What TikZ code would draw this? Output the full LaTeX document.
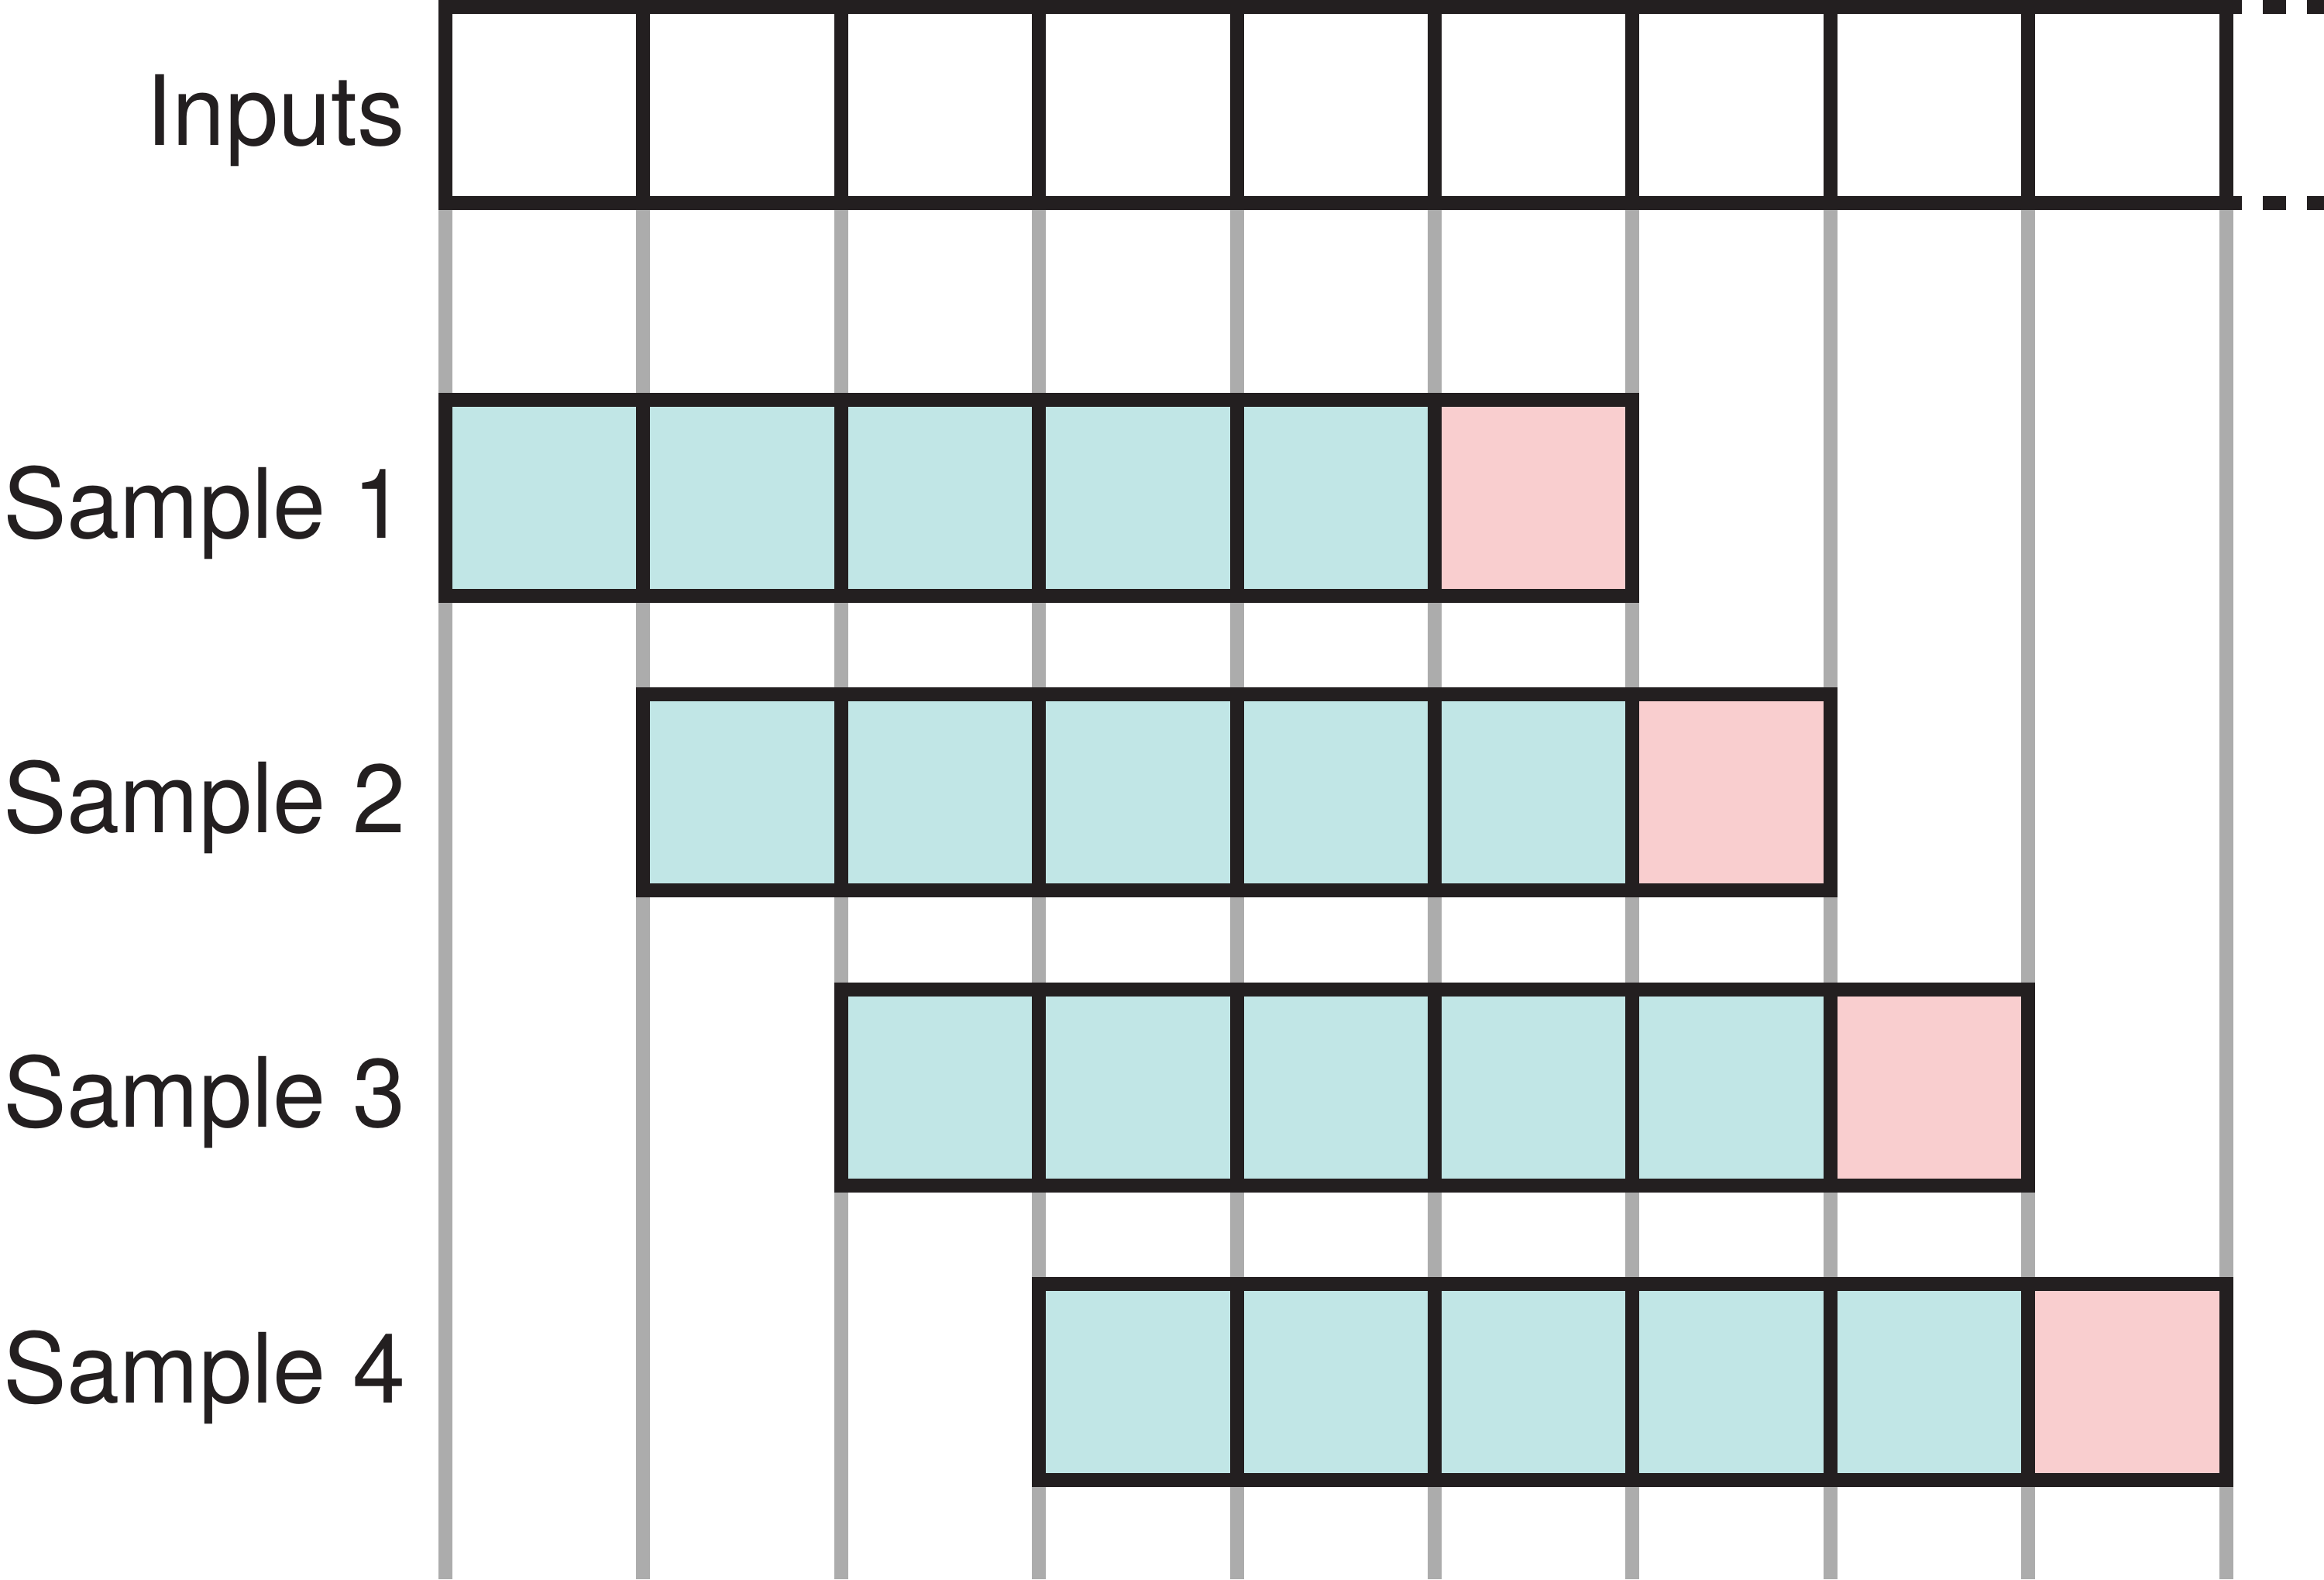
\documentclass[tikz,border=0pt]{standalone}
\usepackage{fontspec}
\setmainfont[FakeStretch=0.98]{TeX Gyre Heros}
\usetikzlibrary{backgrounds}
\newlength{\du}
\setlength{\du}{0.1mm}

\tikzset{
  cell/.style={rectangle, draw=inkcolor, line width=18\du, minimum width=255.4\du, minimum height=253\du, inner sep=0pt, outer sep=0pt},
  known/.style={cell, fill=knowncolor},
  target/.style={cell, fill=targetcolor},
  rowlabel/.style={anchor=base east, inner sep=0pt, text=inkcolor, font=\fontsize{35.6pt}{40pt}\selectfont},
  guide/.style={draw=guidecolor, line width=18\du},
  more/.style={draw=inkcolor, line width=18\du, dash pattern=on 30\du off 27\du, dash phase=9.6\du}
}

\begin{document}
\begin{tikzpicture}
\pgftransformxscale{1.000000}
\pgftransformyscale{-1.000000}
\definecolor{inkcolor}{rgb}{0.137255, 0.121569, 0.125490}
\definecolor{knowncolor}{rgb}{0.756863, 0.901961, 0.901961}
\definecolor{targetcolor}{rgb}{0.976471, 0.807843, 0.811765}
\definecolor{guidecolor}{rgb}{0.674510, 0.674510, 0.674510}
\useasboundingbox (0\du,0\du) rectangle (3000\du,2038\du);
\coordinate (floor) at (0\du,2038\du);
\coordinate (edge) at (3000\du,0\du);
% input row
\node[cell] (in1) at (702.7\du,135\du){};
\node[cell] (in2) at (958.1\du,135\du){};
\node[cell] (in3) at (1213.5\du,135\du){};
\node[cell] (in4) at (1468.9\du,135\du){};
\node[cell] (in5) at (1724.3\du,135\du){};
\node[cell] (in6) at (1979.7\du,135\du){};
\node[cell] (in7) at (2235.1\du,135\du){};
\node[cell] (in8) at (2490.5\du,135\du){};
\node[cell] (in9) at (2745.9\du,135\du){};
\draw[more] (in9.north east) -- (in9.north east -| edge);
\draw[more] (in9.south east) -- (in9.south east -| edge);
% grey guides, behind the samples
\begin{scope}[on background layer]
\draw[guide] (in1.south west) -- (in1.south west |- floor);
\draw[guide] (in2.south west) -- (in2.south west |- floor);
\draw[guide] (in3.south west) -- (in3.south west |- floor);
\draw[guide] (in4.south west) -- (in4.south west |- floor);
\draw[guide] (in5.south west) -- (in5.south west |- floor);
\draw[guide] (in6.south west) -- (in6.south west |- floor);
\draw[guide] (in7.south west) -- (in7.south west |- floor);
\draw[guide] (in8.south west) -- (in8.south west |- floor);
\draw[guide] (in9.south west) -- (in9.south west |- floor);
\draw[guide] (in9.south east) -- (in9.south east |- floor);
\end{scope}
% sample 1
\node[known] (s1c1) at (702.7\du,642\du){};
\node[known] (s1c2) at (958.1\du,642\du){};
\node[known] (s1c3) at (1213.5\du,642\du){};
\node[known] (s1c4) at (1468.9\du,642\du){};
\node[known] (s1c5) at (1724.3\du,642\du){};
\node[target] (s1c6) at (1979.7\du,642\du){};
% sample 2
\node[known] (s2c1) at (958.1\du,1022.5\du){};
\node[known] (s2c2) at (1213.5\du,1022.5\du){};
\node[known] (s2c3) at (1468.9\du,1022.5\du){};
\node[known] (s2c4) at (1724.3\du,1022.5\du){};
\node[known] (s2c5) at (1979.7\du,1022.5\du){};
\node[target] (s2c6) at (2235.1\du,1022.5\du){};
% sample 3
\node[known] (s3c1) at (1213.5\du,1403\du){};
\node[known] (s3c2) at (1468.9\du,1403\du){};
\node[known] (s3c3) at (1724.3\du,1403\du){};
\node[known] (s3c4) at (1979.7\du,1403\du){};
\node[known] (s3c5) at (2235.1\du,1403\du){};
\node[target] (s3c6) at (2490.5\du,1403\du){};
% sample 4
\node[known] (s4c1) at (1468.9\du,1783.5\du){};
\node[known] (s4c2) at (1724.3\du,1783.5\du){};
\node[known] (s4c3) at (1979.7\du,1783.5\du){};
\node[known] (s4c4) at (2235.1\du,1783.5\du){};
\node[known] (s4c5) at (2490.5\du,1783.5\du){};
\node[target] (s4c6) at (2745.9\du,1783.5\du){};
% labels
\node[rowlabel] (lblin) at (524\du,187\du){Inputs};
\node[rowlabel] (lbls1) at (524\du,694\du){Sample 1};
\node[rowlabel] (lbls2) at (524\du,1074\du){Sample 2};
\node[rowlabel] (lbls3) at (524\du,1454\du){Sample 3};
\node[rowlabel] (lbls4) at (524\du,1810\du){Sample 4};
\end{tikzpicture}
\end{document}
